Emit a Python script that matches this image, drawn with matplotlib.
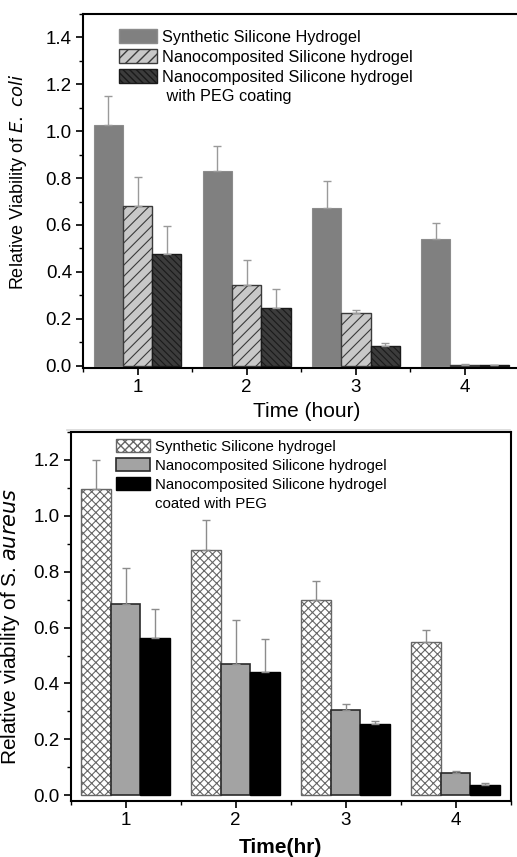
import matplotlib
matplotlib.use("Agg")
import matplotlib.pyplot as plt
import numpy as np
from matplotlib.patches import Patch
from matplotlib.ticker import MultipleLocator, FormatStrFormatter
from matplotlib.lines import Line2D

plt.rcParams['font.family'] = ['Liberation Sans', 'DejaVu Sans']

# ---- data ----
times = [1, 2, 3, 4]
time_labels = ['1', '2', '3', '4']

ecoli_synth = [1.025, 0.832, 0.673, 0.541]
ecoli_synth_err = [0.125, 0.106, 0.115, 0.069]
ecoli_nano = [0.679, 0.346, 0.226, 0.003]
ecoli_nano_err = [0.125, 0.103, 0.011, 0.003]
ecoli_peg = [0.478, 0.247, 0.085, 0.002]
ecoli_peg_err = [0.116, 0.080, 0.010, 0.001]

saur_synth = [1.096, 0.878, 0.700, 0.550]
saur_synth_err = [0.104, 0.106, 0.066, 0.042]
saur_nano = [0.685, 0.470, 0.304, 0.079]
saur_nano_err = [0.127, 0.158, 0.021, 0.010]
saur_peg = [0.563, 0.440, 0.257, 0.037]
saur_peg_err = [0.105, 0.118, 0.009, 0.009]

top_labels = ['Synthetic Silicone Hydrogel', 'Nanocomposited Silicone hydrogel',
              'Nanocomposited Silicone hydrogel', ' with PEG coating']
bot_labels = ['Synthetic Silicone hydrogel', 'Nanocomposited Silicone hydrogel',
              'Nanocomposited Silicone hydrogel', 'coated with PEG']

W, H = 517, 857
fig = plt.figure(figsize=(W / 100, H / 100), dpi=100)

x = np.array(times, dtype=float)
bw = 0.268

# ---------------- top panel ----------------
L1, R1, T1, B1 = 83, 519.6, 14, 368
ax1 = fig.add_axes([L1 / W, 1 - B1 / H, (R1 - L1) / W, (B1 - T1) / H])
err_kw = dict(ecolor='#9a9a9a', elinewidth=1.0, capsize=3, capthick=1.0)

with plt.rc_context({'hatch.linewidth': 0.8}):
    ax1.bar(x - bw, ecoli_synth, bw, color='#808080', edgecolor='#8c8c8c', linewidth=0.8,
            yerr=[np.zeros(4), ecoli_synth_err], error_kw=err_kw)
    ax1.bar(x, ecoli_nano, bw, color='#c8c8c8', edgecolor='#3a3a3a', linewidth=1.0,
            hatch='///', yerr=[np.zeros(4), ecoli_nano_err], error_kw=err_kw)
    ax1.bar(x + bw, ecoli_peg, bw, color='#3c3c3c', edgecolor='#1a1a1a', linewidth=1.0,
            hatch='\\\\\\\\\\', yerr=[np.zeros(4), ecoli_peg_err], error_kw=err_kw)

ax1.set_xlim(0.5, 4.5)
ax1.set_ylim(-0.01, 1.5)
ax1.set_xticks(times)
ax1.set_xticklabels(time_labels)
ax1.xaxis.set_minor_locator(MultipleLocator(0.5))
ax1.set_yticks(np.arange(0, 1.41, 0.2))
ax1.yaxis.set_minor_locator(MultipleLocator(0.1))
ax1.yaxis.set_major_formatter(FormatStrFormatter('%.1f'))
ax1.tick_params(axis='both', which='major', direction='out', length=5, width=1.2, labelsize=13.5, pad=3)
ax1.tick_params(axis='both', which='minor', direction='out', length=3, width=1.0)
ax1.tick_params(axis='x', which='both', top=False)
ax1.tick_params(axis='y', which='both', right=False)
ax1.spines['right'].set_visible(False)
for s in ['left', 'bottom', 'top']:
    ax1.spines[s].set_linewidth(1.5)
ax1.set_xlabel('Time (hour)', fontsize=15)
ax1.xaxis.set_label_coords((306.5 - L1) / (R1 - L1), -(402 - B1) / (B1 - T1))
ax1.set_ylabel('Relative Viability of $\\it{E.\\ coli}$', fontsize=13)
ax1.yaxis.set_label_coords(-(L1 - 29) / (R1 - L1), (B1 - 182) / (B1 - T1))

h1 = [Patch(facecolor='#808080', edgecolor='#8c8c8c'),
      Patch(facecolor='#c8c8c8', edgecolor='#3a3a3a', hatch='///'),
      Patch(facecolor='#3c3c3c', edgecolor='#1a1a1a', hatch='\\\\\\\\\\'),
      Patch(facecolor='none', edgecolor='none')]
leg1 = ax1.legend(h1, top_labels, loc='upper left', bbox_to_anchor=(0.057, 0.99),
                  frameon=False, fontsize=11.7, handlelength=2.3, handleheight=1.0,
                  labelspacing=0.25, handletextpad=0.35, borderpad=0.2)

# separator line
fig.add_artist(Line2D([67 / W, 510 / W], [1 - 430 / H, 1 - 430 / H], color='#d8d8d8', lw=1.2))

# ---------------- bottom panel ----------------
L2, R2, T2, B2 = 70.7, 510.7, 431.7, 801
ax2 = fig.add_axes([L2 / W, 1 - B2 / H, (R2 - L2) / W, (B2 - T2) / H])
err_kw2 = dict(ecolor='#8c8c8c', elinewidth=1.0, capsize=3, capthick=1.0)

with plt.rc_context({'hatch.linewidth': 0.8}):
    ax2.bar(x - bw, saur_synth, bw, color='white', edgecolor='#666666', linewidth=1.0,
            hatch='xxxx', yerr=[np.zeros(4), saur_synth_err], error_kw=err_kw2)
ax2.bar(x, saur_nano, bw, color='#a3a3a3', edgecolor='#2a2a2a', linewidth=1.2,
        yerr=[np.zeros(4), saur_nano_err], error_kw=err_kw2)
ax2.bar(x + bw, saur_peg, bw, color='#000000', edgecolor='#000000', linewidth=1.0,
        yerr=[np.zeros(4), saur_peg_err], error_kw=err_kw2)

ax2.set_xlim(0.5, 4.5)
ax2.set_ylim(-0.02, 1.3)
ax2.set_xticks(times)
ax2.set_xticklabels(time_labels)
ax2.xaxis.set_minor_locator(MultipleLocator(0.5))
ax2.set_yticks(np.arange(0, 1.21, 0.2))
ax2.yaxis.set_minor_locator(MultipleLocator(0.1))
ax2.yaxis.set_major_formatter(FormatStrFormatter('%.1f'))
ax2.tick_params(axis='both', which='major', direction='out', length=5, width=1.2, labelsize=13.5, pad=3)
ax2.tick_params(axis='both', which='minor', direction='out', length=3, width=1.0)
for s in ['left', 'bottom', 'top', 'right']:
    ax2.spines[s].set_linewidth(1.5)
ax2.set_xlabel('Time(hr)', fontsize=15, fontweight='bold')
ax2.xaxis.set_label_coords((280 - L2) / (R2 - L2), -(838 - B2) / (B2 - T2))
ax2.set_ylabel('Relative viability of S. $\\it{aureus}$', fontsize=15)
ax2.yaxis.set_label_coords(-(L2 - 22) / (R2 - L2), (B2 - 626) / (B2 - T2))

h2 = [Patch(facecolor='white', edgecolor='#666666', hatch='xxxx'),
      Patch(facecolor='#a3a3a3', edgecolor='#2a2a2a', linewidth=1.2),
      Patch(facecolor='#000000', edgecolor='#000000'),
      Patch(facecolor='none', edgecolor='none')]
leg2 = ax2.legend(h2, bot_labels, loc='upper left', bbox_to_anchor=(0.078, 1.008),
                  frameon=False, fontsize=10.8, handlelength=2.3, handleheight=0.95,
                  labelspacing=0.3, handletextpad=0.35, borderpad=0.2)

fig.savefig('out.png', dpi=100)
